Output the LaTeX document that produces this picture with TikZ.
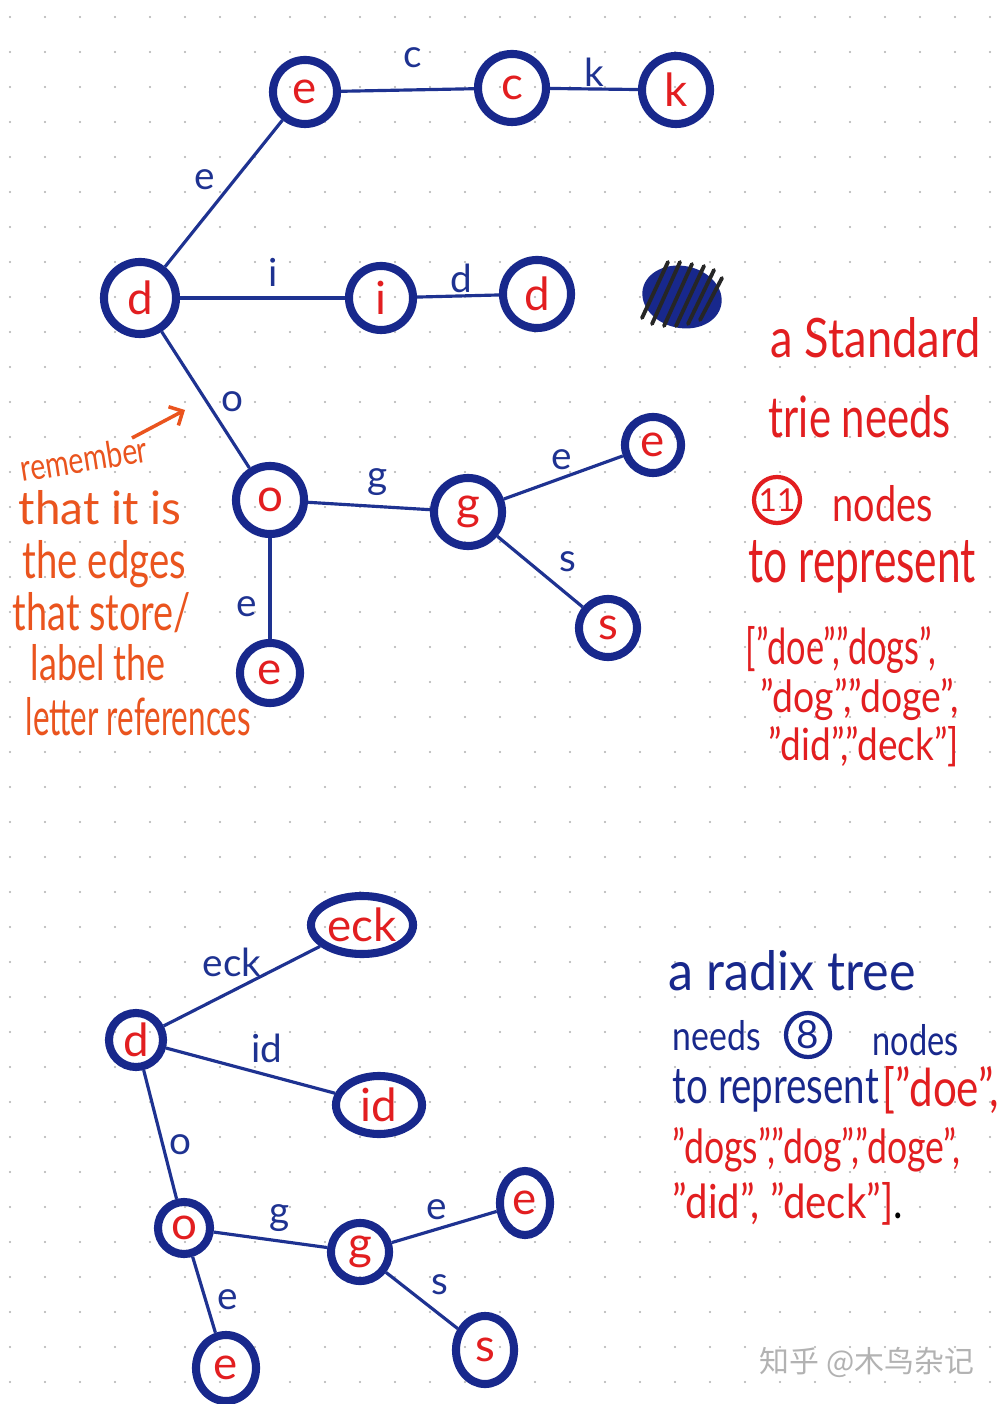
\documentclass[tikz,border=0pt]{standalone}
\usepackage{fontspec}
\setmainfont{Lato}
\newfontfamily\cjkfont{Noto Sans CJK SC}
\usepackage{graphicx}
\usetikzlibrary{arrows.meta,shapes.geometric}
\definecolor{nodeblue}{RGB}{24,40,140}
\definecolor{edgeblue}{RGB}{30,50,145}
\definecolor{inkred}{RGB}{226,30,32}
\definecolor{inkorange}{RGB}{234,84,30}
\definecolor{dotgray}{RGB}{175,175,175}
\newcommand\hw[3]{\resizebox{#1}{#2}{#3}}
\begin{document}
\begin{tikzpicture}[x=0.01cm,y=-0.01cm,
  tn/.style={circle, draw=nodeblue, line width=2.3pt, text=inkred, inner sep=0pt,
    minimum size=#1, font=\fontsize{13}{13}\selectfont},
  tn/.default=0.66cm,
  te/.style 2 args={ellipse, draw=nodeblue, line width=2.3pt, text=inkred, inner sep=0pt,
    minimum width=#1, minimum height=#2, font=\fontsize{13}{13}\selectfont},
  elab/.style={text=edgeblue, inner sep=0pt, font=\fontsize{11}{11}\selectfont},
  conn/.style={draw=edgeblue, line width=0.9pt},
  hwtext/.style={anchor=base west, inner sep=0pt},
]
\useasboundingbox (0,0) rectangle (1000,1404);
\fill[white] (0,0) rectangle (1000,1404);
% dot grid
\foreach \i in {0,...,28} {
  \foreach \j in {0,...,39} {
    \fill[dotgray] (10+35*\i, 17+35*\j) circle[radius=0.012cm];
  }
}

% ---------- standard trie ----------
\node[tn=0.72cm] (d0) at (140,298) {d};
\node[tn=0.64cm] (e1) at (305,92) {e};
\node[tn=0.68cm] (c1) at (512,88) {c};
\node[tn=0.68cm] (k1) at (676,90) {k};
\node[tn=0.64cm] (i1) at (381,298) {i};
\node[tn=0.68cm] (d2) at (537,294) {d};
\node[tn=0.68cm] (o1) at (270,500) {o};
\node[tn=0.68cm] (g1) at (468,512) {g};
\node[tn=0.56cm] (e2) at (653,445) {e};
\node[tn=0.58cm] (s1) at (608,628) {s};
\node[tn=0.60cm] (e3) at (270,673) {e};

\draw[conn] (d0) -- (e1);
\draw[conn] (e1) -- (c1);
\draw[conn] (c1) -- (k1);
\draw[conn] (d0) -- (i1);
\draw[conn] (i1) -- (d2);
\draw[conn] (d0) -- (o1);
\draw[conn] (o1) -- (g1);
\draw[conn] (g1) -- (e2);
\draw[conn] (g1) -- (s1);
\draw[conn] (o1) -- (e3);

\node[elab] (l1) at (205,180) {e};
\node[elab] (l2) at (413,58) {c};
\node[elab] (l3) at (594,72) {k};
\node[elab] (l4) at (273,272) {i};
\node[elab] (l5) at (461,278) {d};
\node[elab] (l6) at (232,402) {o};
\node[elab] (l7) at (378,482) {g};
\node[elab] (l8) at (562,460) {e};
\node[elab] (l9) at (568,562) {s};
\node[elab] (l10) at (247,607) {e};

% scribbled-out node
\fill[nodeblue, rotate around={-12:(682,297)}] (682,297) ellipse [x radius=0.40cm, y radius=0.31cm];
\draw[black!85, line width=1.1pt, line cap=round]
  (642,318) -- (668,262)  (652,324) -- (680,262)  (664,326) -- (692,264)
  (676,326) -- (704,266)  (688,324) -- (714,270)  (700,320) -- (722,278);

% annotation (orange)
\coordinate (arrA) at (132,438);
\coordinate (arrB) at (185,410);
\draw[inkorange, line width=1pt, -{Straight Barb[length=3pt,width=6pt]}] (arrA) -- (arrB);
\node[hwtext, text=inkorange, rotate=9] (r1) at (22,482) {\hw{1.28cm}{0.27cm}{remember}};
\node[hwtext, text=inkorange] (r2) at (18,525) {\hw{1.62cm}{0.34cm}{that it is}};
\node[hwtext, text=inkorange] (r3) at (22,578) {\hw{1.63cm}{0.38cm}{the edges}};
\node[hwtext, text=inkorange] (r4) at (12,630) {\hw{1.78cm}{0.38cm}{that store/}};
\node[hwtext, text=inkorange] (r5) at (30,680) {\hw{1.35cm}{0.36cm}{label the}};
\node[hwtext, text=inkorange] (r6) at (25,735) {\hw{2.25cm}{0.38cm}{letter references}};

% right red text
\node[hwtext, text=inkred] (t1) at (770,358) {\hw{2.10cm}{0.40cm}{a Standard}};
\node[hwtext, text=inkred] (t2) at (768,438) {\hw{1.82cm}{0.42cm}{trie needs}};
\node[circle, draw=inkred, line width=1.2pt, minimum size=0.46cm, inner sep=0pt, text=inkred,
  font=\fontsize{9}{9}\selectfont] (n11) at (777,500) {11};
\node[hwtext, text=inkred] (t3) at (832,522) {\hw{1.00cm}{0.36cm}{nodes}};
\node[hwtext, text=inkred] (t4) at (748,583) {\hw{2.27cm}{0.42cm}{to represent}};
\node[hwtext, text=inkred] (t5) at (745,664) {\hw{1.90cm}{0.38cm}{["doe","dogs",}};
\node[hwtext, text=inkred] (t6) at (760,712) {\hw{1.98cm}{0.34cm}{"dog","doge",}};
\node[hwtext, text=inkred] (t7) at (768,760) {\hw{1.90cm}{0.34cm}{"did","deck"]}};

% ---------- radix tree ----------
\node[tn=0.54cm] (D) at (136,1040) {d};
\node[te={1.02cm}{0.58cm}] (ECK) at (362,925) {eck};
\node[te={0.86cm}{0.58cm}] (ID) at (379,1105) {id};
\node[tn=0.52cm] (O) at (184,1228) {o};
\node[tn=0.58cm] (G) at (360,1252) {g};
\node[te={0.50cm}{0.64cm}] (E) at (525,1203) {e};
\node[te={0.58cm}{0.68cm}] (S) at (485,1350) {s};
\node[te={0.60cm}{0.66cm}] (E2) at (226,1368) {e};

\draw[conn] (D) -- (ECK);
\draw[conn] (D) -- (ID);
\draw[conn] (D) -- (O);
\draw[conn] (O) -- (G);
\draw[conn] (G) -- (E);
\draw[conn] (G) -- (S);
\draw[conn] (O) -- (E2);

\node[elab] (m1) at (232,962) {eck};
\node[elab] (m2) at (267,1048) {id};
\node[elab] (m3) at (180,1145) {o};
\node[elab] (m4) at (280,1218) {g};
\node[elab] (m5) at (437,1210) {e};
\node[elab] (m6) at (440,1285) {s};
\node[elab] (m7) at (228,1300) {e};

% blue / red text
\node[hwtext, text=nodeblue] (b1) at (668,990) {\hw{2.47cm}{0.40cm}{a radix tree}};
\node[hwtext, text=nodeblue] (b2) at (672,1050) {\hw{0.88cm}{0.30cm}{needs}};
\node[circle, draw=nodeblue, line width=1.2pt, minimum size=0.44cm, inner sep=0pt, text=nodeblue,
  font=\fontsize{11}{11}\selectfont] (n8) at (808,1035) {8};
\node[hwtext, text=nodeblue] (b3) at (872,1055) {\hw{0.86cm}{0.31cm}{nodes}};
\node[hwtext, text=nodeblue] (b4) at (672,1103) {\hw{2.06cm}{0.34cm}{to represent}};
\node[hwtext, text=inkred] (b5) at (882,1106) {\hw{1.16cm}{0.40cm}{["doe",}};
\node[hwtext, text=inkred] (b6) at (672,1163) {\hw{2.88cm}{0.36cm}{"dogs","dog","doge",}};
\node[hwtext, text=inkred] (b7) at (672,1218) {\hw{2.30cm}{0.36cm}{"did", "deck"]{\color{black}.}}};

% watermark
\node[text=gray!60, inner sep=0pt, font=\cjkfont\fontsize{8.5}{8.5}\selectfont] (wm) at (867,1362) {知乎 @木鸟杂记};
\end{tikzpicture}
\end{document}
